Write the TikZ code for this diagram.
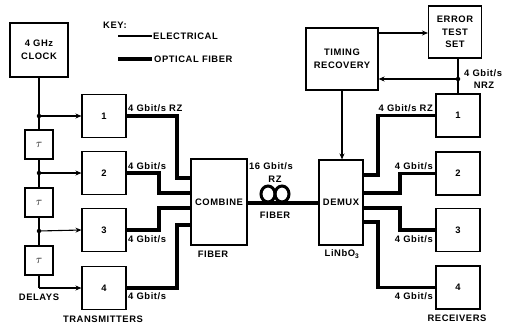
\documentclass[tikz,border=0pt]{standalone}
\usepackage{fontspec}
\setmainfont{Liberation Sans}[LetterSpace=6]
\usetikzlibrary{arrows.meta}
\begin{document}
\begin{tikzpicture}[x=1pt,y=-1pt,
  every node/.style={font=\bfseries\fontsize{9.4}{12.5}\selectfont, inner sep=0pt},
  blk/.style={draw, line width=1.1pt, align=center},
  el/.style={line width=1.1pt},
  ela/.style={line width=1.1pt, -{Stealth[length=6pt,width=5pt]}},
  fib/.style={line width=3.4pt, line join=miter},
  dotc/.style={circle, fill, minimum size=4.5pt, inner sep=0pt},
  taubox/.style={blk, minimum width=28pt, minimum height=29pt, font=\fontsize{12}{12}\selectfont}
]
\useasboundingbox (0,0) rectangle (505,326);

% key
\node[anchor=west] (key) at (103,25) {KEY:};
\coordinate (ke1) at (118,36); \coordinate (ke2) at (152,36);
\coordinate (ko1) at (118,59); \coordinate (ko2) at (152,59);
\draw[el] (ke1) -- (ke2);
\draw[fib] (ko1) -- (ko2);
\node[anchor=west] (kel) at (153,36) {ELECTRICAL};
\node[anchor=west] (kof) at (154,59) {OPTICAL FIBER};

% left side blocks
\node[blk, minimum width=58pt, minimum height=54pt] (clk) at (39,50) {4 GHz\\CLOCK};
\node[blk, minimum width=44pt, minimum height=43pt] (tx1) at (104,116) {1};
\node[blk, minimum width=44pt, minimum height=43pt] (tx2) at (104,173) {2};
\node[blk, minimum width=44pt, minimum height=43pt] (tx3) at (104,230) {3};
\node[blk, minimum width=44pt, minimum height=43pt] (tx4) at (104,288) {4};
\node[taubox] (t1) at (39,144.5) {$\tau$};
\node[taubox] (t2) at (39,202.5) {$\tau$};
\node[taubox] (t3) at (39,260.5) {$\tau$};
\node[blk, minimum width=56pt, minimum height=86pt] (comb) at (219,202) {COMBINE};

% right side blocks
\node[blk, minimum width=44pt, minimum height=85pt] (dmx) at (341,202.5) {DEMUX};
\node[blk, minimum width=72pt, minimum height=62pt] (tr) at (342,59) {TIMING\\RECOVERY};
\node[blk, minimum width=53pt, minimum height=52pt] (ets) at (455,32) {ERROR\\TEST\\SET};
\node[blk, minimum width=44pt, minimum height=43pt] (rx1) at (458,115.5) {1};
\node[blk, minimum width=44pt, minimum height=43pt] (rx2) at (458,173.5) {2};
\node[blk, minimum width=44pt, minimum height=43pt] (rx3) at (458,230) {3};
\node[blk, minimum width=44pt, minimum height=43pt] (rx4) at (458,287.5) {4};

% clock distribution
\node[dotc] (d1) at (39,116) {};
\node[dotc] (d2) at (39,173) {};
\node[dotc] (d3) at (39,231) {};
\coordinate (c4) at (39,288);
\draw[el] (clk.south) -- (d1.center) -- (t1.north);
\draw[el] (t1.south) -- (d2.center) -- (t2.north);
\draw[el] (t2.south) -- (d3.center) -- (t3.north);
\draw[el] (t3.south) -- (c4);
\draw[ela] (d1.center) -- (tx1.west);
\draw[ela] (d2.center) -- (tx2.west);
\draw[ela] (d3.center) -- (tx3.west);
\draw[ela] (c4) -- (tx4.west);

% fibers into combiner
\draw[fib] (tx1.east) -| (177,178) -- (comb.west |- 0,178);
\draw[fib] (tx2.east) -| (159,193) -- (comb.west |- 0,193);
\draw[fib] (tx3.east) -| (159,208) -- (comb.west |- 0,208);
\draw[fib] (tx4.east) -| (177,225) -- (comb.west |- 0,225);

% fiber link with coil
\coordinate (lk1) at (comb.east |- 0,203);
\coordinate (lk2) at (dmx.west |- 0,203);
\draw[fib] (lk1) -- (lk2);
\coordinate (coilA) at (268,194);
\coordinate (coilB) at (282,194);
\draw[line width=3pt] (coilA) ellipse[x radius=7pt, y radius=8pt];
\draw[line width=3pt] (coilB) ellipse[x radius=7pt, y radius=8pt];

% fibers out of demux
\draw[fib] (rx1.west) -| (378,175) -- (dmx.east |- 0,175);
\draw[fib] (rx2.west) -| (400,193) -- (dmx.east |- 0,193);
\draw[fib] (rx3.west) -| (400,208) -- (dmx.east |- 0,208);
\draw[fib] (rx4.west) -| (378,222) -- (dmx.east |- 0,222);

% timing / error test
\draw[ela] (tr.east |- 0,33) -- (ets.west |- 0,33);
\node[dotc] (d4) at (rx1.north |- 0,79) {};
\draw[el] (ets.south -| rx1.north) -- (rx1.north);
\draw[ela] (d4.center) -- (tr.east |- d4);
\draw[ela] (tr.south) -- (dmx.north -| tr.south);

% labels
\node[anchor=west] (l1) at (128,108) {4 Gbit/s RZ};
\node[anchor=west] (l2) at (128,166) {4 Gbit/s};
\node[anchor=west] (l3) at (128,239) {4 Gbit/s};
\node[anchor=west] (l4) at (128,296) {4 Gbit/s};
\node[anchor=east] (r1) at (433,108) {4 Gbit/s RZ};
\node[anchor=east] (r2) at (433,166) {4 Gbit/s};
\node[anchor=east] (r3) at (433,239) {4 Gbit/s};
\node[anchor=east] (r4) at (433,296) {4 Gbit/s};
\node[anchor=west] (n1) at (464,73) {4 Gbit/s};
\node (n2) at (484,85) {NRZ};
\node (m1) at (271,166) {16 Gbit/s};
\node (m2) at (275,179) {RZ};
\node (m3) at (275,215) {FIBER};
\node (cf) at (213,254) {FIBER};
\node (ln) at (342,254) {LiNbO\textsubscript{3}};
\node (dl) at (39,297) {DELAYS};
\node (tm) at (103,319) {TRANSMITTERS};
\node (rc) at (457,318) {RECEIVERS};
\end{tikzpicture}
\end{document}
